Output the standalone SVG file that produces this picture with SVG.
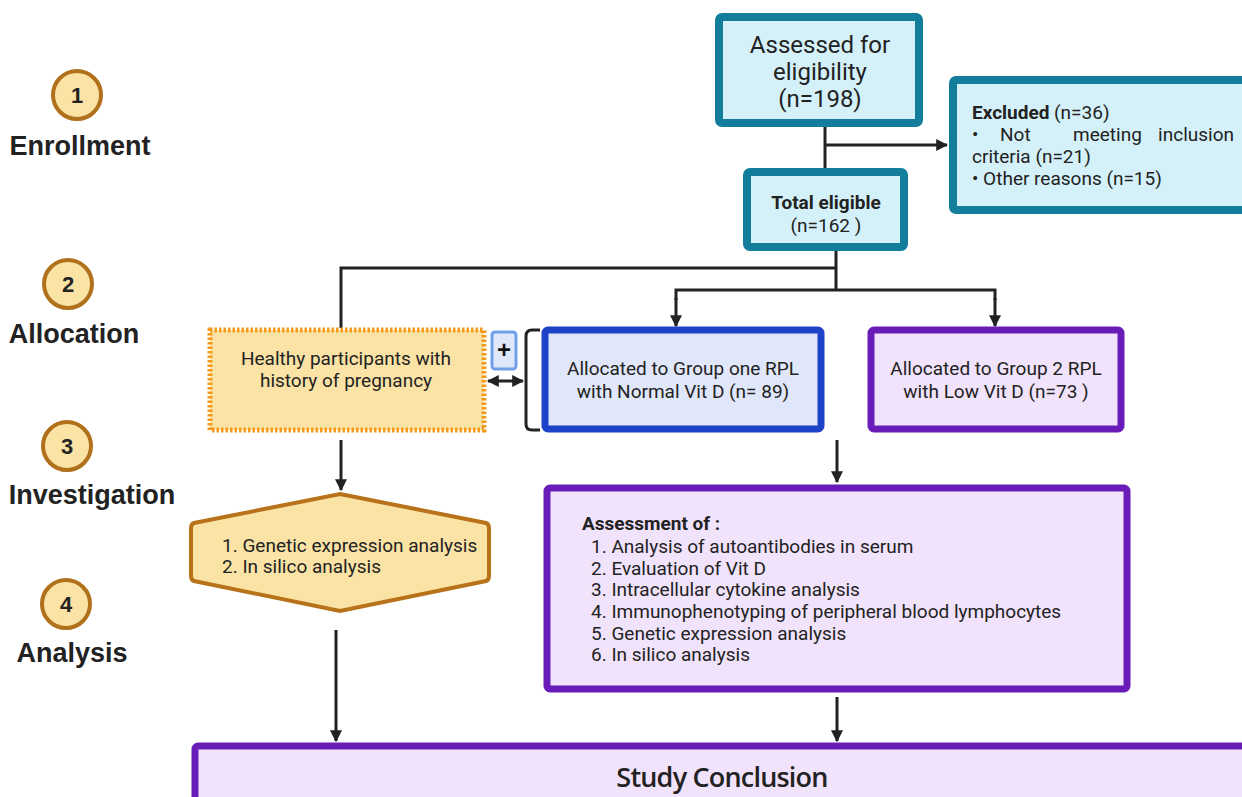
<svg xmlns="http://www.w3.org/2000/svg" width="1242" height="797" viewBox="0 0 1242 797">
<defs>
<marker id="ah" viewBox="0 0 10 10" refX="9" refY="5" markerWidth="4" markerHeight="4" orient="auto-start-reverse">
<path d="M0,0 L10,5 L0,10 z" fill="#222"/>
</marker>
<style>
.step{fill:#fbe3a6;stroke:#b0701c;stroke-width:4}
.num{font-family:"Liberation Sans",Arial,sans-serif;font-weight:bold;font-size:22px;fill:#222;text-anchor:middle}
.lbl{font-family:"Liberation Sans",Arial,sans-serif;font-weight:bold;font-size:27px;fill:#222;text-anchor:middle}
.t{font-family:Roboto,"Liberation Sans",sans-serif;font-size:19px;fill:#222}
.tc{font-family:Roboto,"Liberation Sans",sans-serif;font-size:19px;fill:#222;text-anchor:middle}
.teal{fill:#d4f1f9;stroke:#137e9c;stroke-width:8}
.purple{fill:#f1e3fb;stroke:#6a1cb8;stroke-width:7}
.ln{fill:none;stroke:#222;stroke-width:3}
</style>
</defs>
<rect width="1242" height="797" fill="#fff"/>

<g id="stages">
<circle class="step" cx="77" cy="95" r="24"/><text class="num" x="77" y="103">1</text>
<text class="lbl" x="80" y="155">Enrollment</text>
<circle class="step" cx="68" cy="284" r="24"/><text class="num" x="68" y="292">2</text>
<text class="lbl" x="74" y="343">Allocation</text>
<circle class="step" cx="67" cy="446" r="24"/><text class="num" x="67" y="454">3</text>
<text class="lbl" x="92" y="504">Investigation</text>
<circle class="step" cx="66" cy="604" r="24"/><text class="num" x="66" y="612">4</text>
<text class="lbl" x="72" y="662">Analysis</text>
</g>

<g id="connectors">
<line class="ln" x1="825" y1="126" x2="825" y2="170"/>
<line class="ln" x1="825" y1="145" x2="947" y2="145" marker-end="url(#ah)"/>
<line class="ln" x1="836" y1="250" x2="836" y2="290"/>
<polyline class="ln" points="836,268 341,268 341,328"/>
<polyline class="ln" points="676,300 676,290 995,290 995,300"/>
<line class="ln" x1="676" y1="298" x2="676" y2="326" marker-end="url(#ah)"/>
<line class="ln" x1="995" y1="298" x2="995" y2="326" marker-end="url(#ah)"/>
<line class="ln" x1="488" y1="381" x2="523" y2="381" marker-start="url(#ah)" marker-end="url(#ah)"/>
<path class="ln" d="M540,330 L532,330 Q526,330 526,336 L526,424 Q526,430 532,430 L540,430"/>
<line class="ln" x1="341" y1="440" x2="341" y2="490" marker-end="url(#ah)"/>
<line class="ln" x1="837" y1="440" x2="837" y2="482" marker-end="url(#ah)"/>
<line class="ln" x1="336" y1="630" x2="336" y2="741" marker-end="url(#ah)"/>
<line class="ln" x1="837" y1="697" x2="837" y2="741" marker-end="url(#ah)"/>
</g>

<g id="assessed">
<rect class="teal" x="719" y="17" width="200" height="106" rx="3"/>
<text class="tc" style="font-size:24px" x="820" y="53">Assessed for</text>
<text class="tc" style="font-size:24px" x="820" y="80">eligibility</text>
<text class="tc" style="font-size:24px" x="820" y="107">(n=198)</text>
</g>

<g id="excluded">
<rect class="teal" x="953" y="80" width="300" height="130" rx="3"/>
<text class="t" x="972" y="119"><tspan font-weight="bold">Excluded</tspan> (n=36)</text>
<text class="t" x="972" y="141">•</text>
<text class="t" x="1000" y="141">Not</text>
<text class="t" x="1073" y="141">meeting</text>
<text class="t" x="1234" y="141" text-anchor="end">inclusion</text>
<text class="t" x="972" y="163">criteria (n=21)</text>
<text class="t" x="972" y="185">• Other reasons (n=15)</text>
</g>

<g id="total">
<rect class="teal" x="747" y="172" width="157" height="75" rx="3"/>
<text class="tc" x="826" y="209" font-weight="bold">Total eligible</text>
<text class="tc" x="826" y="232">(n=162 )</text>
</g>

<g id="healthy">
<rect x="210" y="330" width="274" height="100" fill="#fbe3a6" stroke="#f29a1c" stroke-width="5" stroke-dasharray="2.5 2"/>
<text class="tc" x="346" y="365">Healthy participants with</text>
<text class="tc" x="346" y="387">history of pregnancy</text>
</g>

<g id="plus">
<rect x="492" y="332" width="24" height="37" rx="3" fill="#dfe8fb" stroke="#6fa0e8" stroke-width="3"/>
<text x="504" y="358" font-family="Liberation Sans,Arial,sans-serif" font-weight="bold" font-size="24" text-anchor="middle" fill="#111">+</text>
</g>

<g id="group1">
<rect x="545" y="330" width="276" height="99" rx="3" fill="#e0e7fb" stroke="#1f43c8" stroke-width="7"/>
<text class="tc" x="683" y="375">Allocated to Group one RPL</text>
<text class="tc" x="683" y="398">with Normal Vit D (n= 89)</text>
</g>

<g id="group2">
<rect class="purple" x="871" y="330" width="250" height="99" rx="3"/>
<text class="tc" x="996" y="375">Allocated to Group 2 RPL</text>
<text class="tc" x="996" y="398">with Low Vit D (n=73 )</text>
</g>

<g id="healthyAnalysis">
<path d="M340,494 L486,523 Q489,524 489,528 L489,576 Q489,580 486,581 L340,611 L194,581 Q191,580 191,576 L191,528 Q191,524 194,523 Z" fill="#fbe3a6" stroke="#b8731a" stroke-width="4"/>
<text class="t" x="222" y="552">1.  Genetic expression analysis</text>
<text class="t" x="222" y="573">2.  In silico analysis</text>
</g>

<g id="assessment">
<rect class="purple" x="547" y="488" width="580" height="201" rx="3"/>
<text class="t" x="582" y="530" font-weight="bold">Assessment of :</text>
<text class="t" x="591" y="553">1.  Analysis of autoantibodies in serum</text>
<text class="t" x="591" y="575">2.  Evaluation of Vit D</text>
<text class="t" x="591" y="596">3.  Intracellular cytokine analysis</text>
<text class="t" x="591" y="618">4.  Immunophenotyping of peripheral blood lymphocytes</text>
<text class="t" x="591" y="640">5.  Genetic expression analysis</text>
<text class="t" x="591" y="661">6.  In silico analysis</text>
</g>

<g id="conclusion">
<rect class="purple" x="195" y="746" width="1060" height="60" rx="3"/>
<text x="722" y="787" font-family="Open Sans,Liberation Sans,sans-serif" font-weight="600" font-size="27" text-anchor="middle" fill="#222" letter-spacing="-0.8">Study Conclusion</text>
</g>
</svg>
